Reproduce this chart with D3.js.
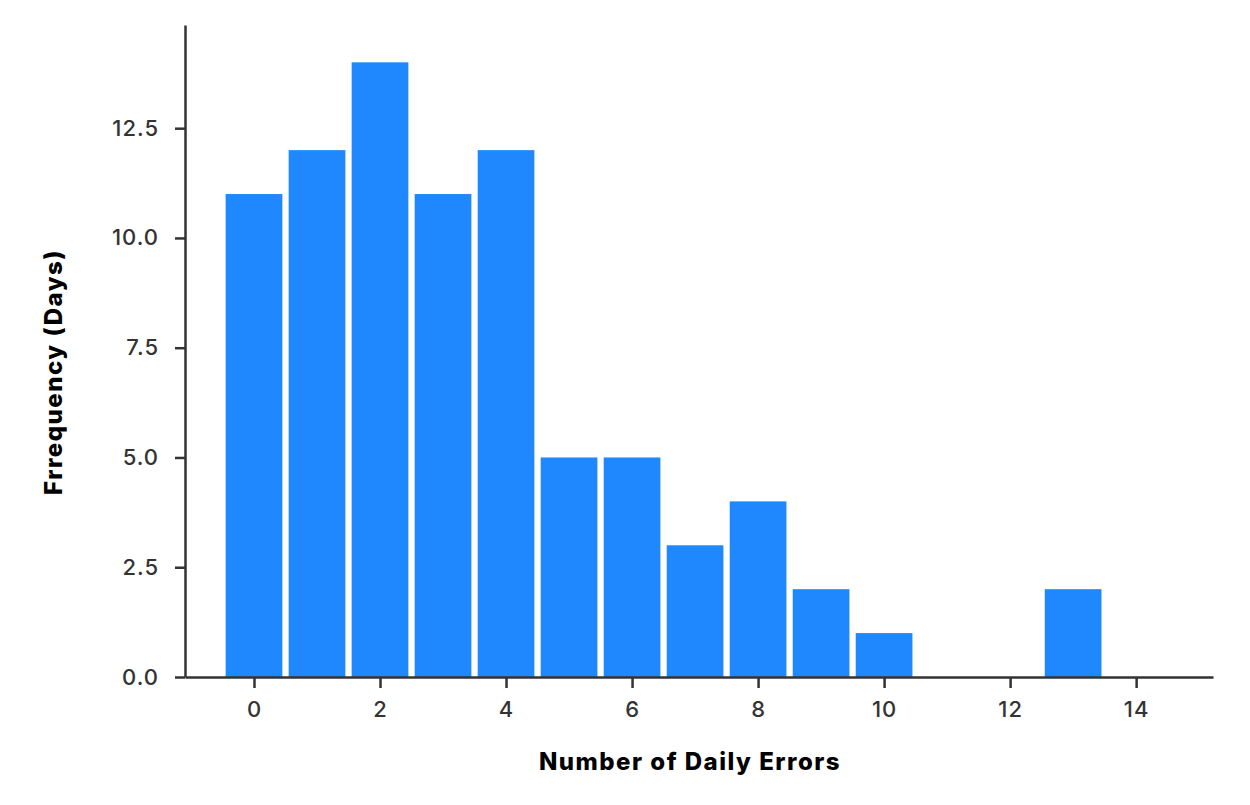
<!DOCTYPE html>
<html><head><meta charset="utf-8">
<script src="https://cdn.jsdelivr.net/npm/d3@7"></script>
<style>body{margin:0;background:#fff}svg{display:block}</style>
</head><body>
<svg id="c" width="1250" height="805"></svg>
<script>
const errors = [0,1,2,3,4,5,6,7,8,9,10,11,12,13];
const frequency = [11,12,14,11,12,5,5,3,4,2,1,0,0,2];
const xTicks = [0,2,4,6,8,10,12,14];
const yTicks = [0,2.5,5,7.5,10,12.5];
const xTitle = "Number of Daily Errors";
const yTitle = "Frrequency (Days)";

const svg = d3.select("#c");
const L=185, R=1213, T=25, B=677;
const x = d3.scaleLinear().domain([-1.095,15.22]).range([L,R]);
const y = d3.scaleLinear().domain([0,14.85]).range([B,T]);
const font = "Inter, 'Noto Sans', sans-serif";
const axisColor = "#333";

svg.append("g").selectAll("rect").data(errors).join("rect")
  .attr("x", (d)=>x(d-0.45))
  .attr("width", (d)=>x(d+0.45)-x(d-0.45))
  .attr("y", (d,i)=>y(frequency[i]))
  .attr("height", (d,i)=>y(0)-y(frequency[i]))
  .attr("fill", "#1f88ff");

const gx = svg.append("g").attr("transform",`translate(0,${B})`)
  .call(d3.axisBottom(x).tickValues(xTicks).tickFormat(d3.format("d")).tickSize(11).tickSizeOuter(0).tickPadding(13));
const gy = svg.append("g").attr("transform",`translate(${L},0)`)
  .call(d3.axisLeft(y).tickValues(yTicks).tickFormat(d3.format(".1f")).tickSize(10).tickSizeOuter(0).tickPadding(16));
[gx,gy].forEach(g=>{
  g.select(".domain").attr("stroke",axisColor).attr("stroke-width",2.5);
  g.selectAll(".tick line").attr("stroke",axisColor).attr("stroke-width",2.5);
  g.selectAll(".tick text").attr("fill",axisColor).style("font-family",font).style("font-size","22px").style("font-weight","500").style("letter-spacing","1px");
});

svg.append("text").attr("x",690).attr("y",770).attr("text-anchor","middle")
  .style("font-family",font).style("font-weight","800").style("font-size","24px").style("letter-spacing","1.5px").attr("fill","#000")
  .text(xTitle);
svg.append("text").attr("transform","translate(62,372) rotate(-90)").attr("text-anchor","middle")
  .style("font-family",font).style("font-weight","800").style("font-size","24px").style("letter-spacing","1.5px").attr("fill","#000")
  .text(yTitle);
</script>
</body></html>
